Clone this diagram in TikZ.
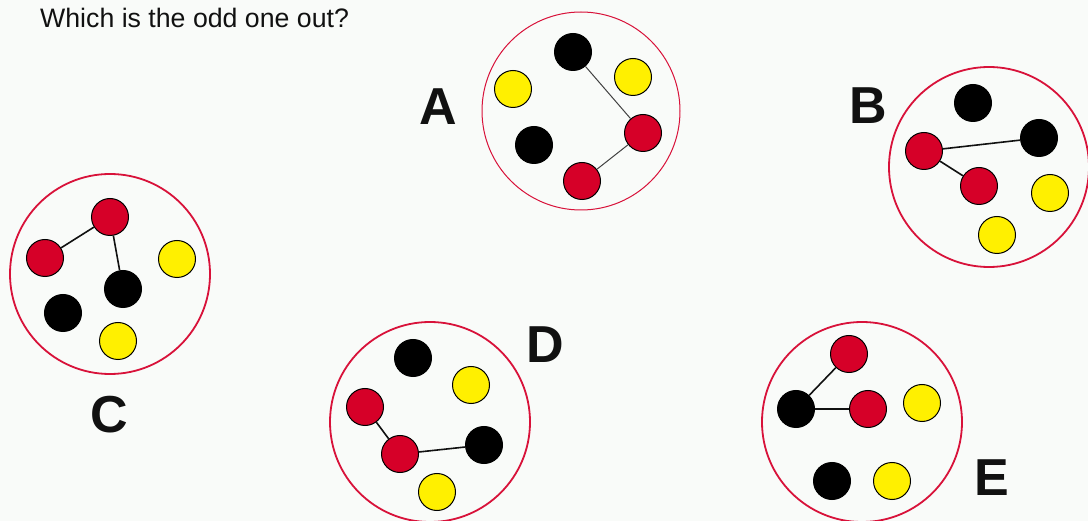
\documentclass[tikz,border=0pt]{standalone}
\usepackage{fontspec}
\setmainfont{Liberation Sans}
\usepackage{xcolor}
\usepackage{tikz}
\definecolor{ringred}{HTML}{D8123A}
\definecolor{dotred}{HTML}{D60028}
\definecolor{dotyellow}{HTML}{FFF000}
\definecolor{ink}{HTML}{111111}
\definecolor{paper}{HTML}{F9FBF9}
\tikzset{
  ring/.style={circle,draw=ringred,line width=1.8pt,minimum size=200pt,inner sep=0pt},
  ball/.style={circle,draw=black,line width=1pt,minimum size=37pt,inner sep=0pt},
  redball/.style={ball,fill=dotred},
  blackball/.style={ball,fill=black},
  yellowball/.style={ball,fill=dotyellow},
  link/.style={draw=ink,line width=1.6pt},
  letter/.style={font=\fontsize{52}{52}\selectfont\bfseries,text=ink,inner sep=0pt,anchor=base}
}
\begin{document}
\begin{tikzpicture}[x=1pt,y=-1pt]
  \fill[paper] (0,0) rectangle (1088,521);
  \useasboundingbox (0,0) rectangle (1088,521);
  \node[anchor=base west,inner sep=0pt,text=ink,font=\fontsize{26.7}{26.7}\selectfont] (title) at (40,28) {Which is the odd one out?};

  % A
  \node[ring,line width=1pt,minimum size=198pt] (ringA) at (581,111) {};
  \node[blackball] (a1) at (573,52) {};
  \node[yellowball] (a2) at (633,77) {};
  \node[yellowball] (a3) at (513,89) {};
  \node[redball] (a4) at (643,133) {};
  \node[blackball] (a5) at (534,145) {};
  \node[redball] (a6) at (582,181) {};
  \draw[link,line width=1pt,draw=ink!80] (a1) -- (a4);
  \draw[link,line width=1pt,draw=ink!80] (a4) -- (a6);
  \node[letter] (labelA) at (438,125) {A};

  % B
  \node[ring] (ringB) at (989,167) {};
  \node[blackball] (b1) at (973,103) {};
  \node[blackball] (b2) at (1039,138) {};
  \node[redball] (b3) at (924,151) {};
  \node[redball] (b4) at (979,186) {};
  \node[yellowball] (b5) at (1050,193) {};
  \node[yellowball] (b6) at (997,235) {};
  \draw[link] (b3) -- (b2);
  \draw[link] (b3) -- (b4);
  \node[letter] (labelB) at (868,124) {B};

  % C
  \node[ring] (ringC) at (110,274) {};
  \node[redball] (c1) at (110,217) {};
  \node[redball] (c2) at (45,258) {};
  \node[yellowball] (c3) at (177,259) {};
  \node[blackball] (c4) at (123,289) {};
  \node[blackball] (c5) at (63,313) {};
  \node[yellowball] (c6) at (118,341) {};
  \draw[link] (c1) -- (c2);
  \draw[link] (c1) -- (c4);
  \node[letter] (labelC) at (109,432) {C};

  % D
  \node[ring] (ringD) at (430,422) {};
  \node[blackball] (d1) at (413,358) {};
  \node[yellowball] (d2) at (471,385) {};
  \node[redball] (d3) at (365,407) {};
  \node[redball] (d4) at (400,454) {};
  \node[blackball] (d5) at (484,445) {};
  \node[yellowball] (d6) at (437,492) {};
  \draw[link] (d3) -- (d4);
  \draw[link] (d4) -- (d5);
  \node[letter] (labelD) at (545,363) {D};

  % E
  \node[ring] (ringE) at (862,422) {};
  \node[redball] (e1) at (849,354) {};
  \node[blackball] (e2) at (796,409) {};
  \node[redball] (e3) at (868,409) {};
  \node[yellowball] (e4) at (922,403) {};
  \node[blackball] (e5) at (832,481) {};
  \node[yellowball] (e6) at (892,481) {};
  \draw[link] (e2) -- (e1);
  \draw[link] (e2) -- (e3);
  \node[letter] (labelE) at (992,495) {E};
\end{tikzpicture}
\end{document}
